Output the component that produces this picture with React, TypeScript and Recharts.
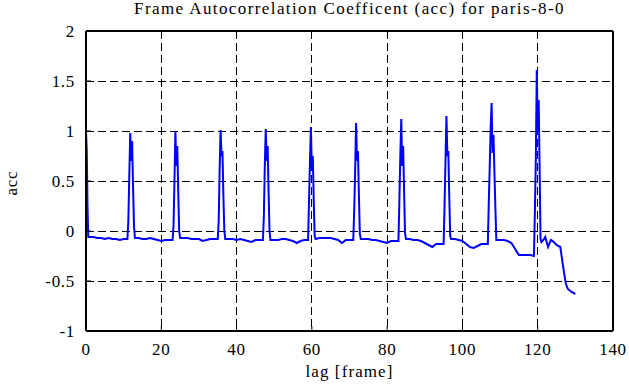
import React from 'react'
import {
  LineChart,
  Line,
  XAxis,
  YAxis,
  CartesianGrid,
  ReferenceLine,
} from 'recharts'

// lag positions, one row per 12-frame cycle
const lagFrames = [
  0, 0.2, 0.4, 0.6, 1, 2, 3, 4, 5, 6, 7, 8, 9, 10, 11,
  11.25, 11.5, 11.75, 12, 12.25, 12.5, 12.75, 13, 14, 15, 16, 17, 18, 19, 20, 21, 22, 23,
  23.25, 23.5, 23.75, 24, 24.25, 24.5, 24.75, 25, 26, 27, 28, 29, 30, 31, 32, 33, 34, 35,
  35.25, 35.5, 35.75, 36, 36.25, 36.5, 36.75, 37, 38, 39, 40, 41, 42, 43, 44, 45, 46, 47,
  47.25, 47.5, 47.75, 48, 48.25, 48.5, 48.75, 49, 50, 51, 52, 53, 54, 55, 56, 57, 58, 59,
  59.25, 59.5, 59.75, 60, 60.25, 60.5, 60.75, 61, 62, 63, 64, 65, 66, 67, 68, 69, 70, 71,
  71.25, 71.5, 71.75, 72, 72.25, 72.5, 72.75, 73, 74, 75, 76, 77, 78, 79, 80, 81, 82, 83,
  83.25, 83.5, 83.75, 84, 84.25, 84.5, 84.75, 85, 86, 87, 88, 89, 90, 91, 92, 93, 94, 95,
  95.25, 95.5, 95.75, 96, 96.25, 96.5, 96.75, 97, 98, 99, 100, 101, 102, 103, 104, 105, 106, 106.75,
  107, 107.25, 107.5, 107.75, 108, 108.25, 108.5, 108.75, 109, 110, 111, 112, 113, 114, 115, 116, 117, 118, 119,
  119.25, 119.5, 119.75, 120, 120.25, 120.5, 120.75, 121, 121.5, 122, 122.75, 123.5, 124, 125, 126, 126.5, 127, 127.5, 128, 129, 130,
]

const accValues = [
  0.99, 0.8, 0.25, -0.06, -0.06, -0.06, -0.07, -0.07, -0.08, -0.07, -0.08, -0.08, -0.09, -0.08, -0.08,
  0.1, 0.55, 0.98, 0.7, 0.9, 0.45, 0.05, -0.07, -0.07, -0.08, -0.08, -0.07, -0.08, -0.09, -0.1, -0.09, -0.09, -0.09,
  0.05, 0.5, 1.0, 0.65, 0.85, 0.4, 0.0, -0.07, -0.07, -0.07, -0.08, -0.08, -0.08, -0.1, -0.09, -0.08, -0.08, -0.08,
  0.1, 0.6, 1.01, 0.75, 0.8, 0.35, 0.0, -0.08, -0.08, -0.08, -0.09, -0.08, -0.09, -0.1, -0.11, -0.09, -0.09, -0.09,
  0.15, 0.65, 1.02, 0.7, 0.85, 0.4, 0.0, -0.09, -0.09, -0.09, -0.08, -0.08, -0.09, -0.1, -0.12, -0.1, -0.09, -0.09,
  0.3, 0.7, 1.04, 0.6, 0.75, 0.3, -0.05, -0.08, -0.07, -0.07, -0.07, -0.07, -0.08, -0.09, -0.12, -0.09, -0.09, -0.09,
  0.2, 0.6, 1.08, 0.7, 0.8, 0.35, -0.03, -0.08, -0.08, -0.08, -0.09, -0.09, -0.1, -0.11, -0.12, -0.1, -0.1, -0.1,
  0.3, 0.75, 1.12, 0.65, 0.85, 0.4, -0.02, -0.08, -0.08, -0.09, -0.09, -0.1, -0.12, -0.14, -0.16, -0.13, -0.13, -0.13,
  0.25, 0.7, 1.15, 0.75, 0.8, 0.35, -0.05, -0.08, -0.08, -0.09, -0.1, -0.13, -0.16, -0.17, -0.15, -0.13, -0.13, -0.13,
  0.28, 0.64, 1.03, 1.28, 0.78, 0.96, 0.59, 0.24, -0.09, -0.09, -0.09, -0.1, -0.12, -0.18, -0.24, -0.24, -0.24, -0.24, -0.25,
  0.2, 0.72, 1.61, 1.0, 1.31, 0.65, -0.08, -0.11, -0.09, -0.06, -0.16, -0.09, -0.1, -0.14, -0.16, -0.29, -0.42, -0.53, -0.58, -0.61, -0.63,
]

const xTicks = [0, 20, 40, 60, 80, 100, 120, 140]
const yTicks = [-1, -0.5, 0, 0.5, 1, 1.5, 2]

const title = 'Frame Autocorrelation Coefficent (acc) for paris-8-0'

const data = lagFrames.map((lag, i) => ({ lag, acc: accValues[i] }))

const font = 'Liberation Serif'
const textStyle = { fontFamily: font, fontSize: 17, fill: '#000', letterSpacing: 0.7 }

function XTick(props: any) {
  const { x, y, payload } = props
  return (
    <text x={x} y={y} dy='0.71em' textAnchor='middle' style={textStyle}>
      {payload.value}
    </text>
  )
}

function YTick(props: any) {
  const { x, y, payload } = props
  return (
    <text x={x} y={y} dy='0.355em' textAnchor='end' style={textStyle}>
      {payload.value}
    </text>
  )
}

export default function App() {
  return (
    <div
      style={{
        position: 'absolute',
        left: 0,
        top: 0,
        width: 629,
        height: 387,
        background: '#fff',
        fontFamily: font,
      }}
    >
      <div
        style={{
          position: 'absolute',
          left: 86,
          width: 527,
          top: -1,
          textAlign: 'center',
          fontSize: 17,
          letterSpacing: 1.4,
          whiteSpace: 'nowrap',
        }}
      >
        {title}
      </div>
      <LineChart
        width={629}
        height={387}
        data={data}
        style={{ fontFamily: font }}
        margin={{ top: 31, right: 16, bottom: 26, left: 46 }}
      >
        <CartesianGrid
          stroke='#000'
          strokeDasharray='8 4'
          shapeRendering='crispEdges'
        />
        <XAxis
          dataKey='lag'
          type='number'
          domain={[0, 140]}
          ticks={xTicks}
          height={30}
          tick={XTick}
          tickSize={-5}
          tickMargin={17}
          axisLine={{ stroke: '#000', strokeWidth: 2 }}
          tickLine={{ stroke: '#000' }}
        />
        <YAxis
          type='number'
          domain={[-1, 2]}
          ticks={yTicks}
          width={40}
          tick={YTick}
          tickSize={-5}
          tickMargin={16}
          axisLine={{ stroke: '#000', strokeWidth: 2 }}
          tickLine={{ stroke: '#000' }}
        />
        <ReferenceLine y={2} stroke='#000' strokeWidth={2} />
        <ReferenceLine x={140} stroke='#000' strokeWidth={2} />
        <Line
          type='linear'
          dataKey='acc'
          stroke='#0000ff'
          strokeWidth={2}
          dot={false}
          isAnimationActive={false}
        />
      </LineChart>
      <div
        style={{
          position: 'absolute',
          left: 86,
          width: 527,
          top: 362,
          textAlign: 'center',
          fontSize: 17,
          letterSpacing: 1.1,
        }}
      >
        lag [frame]
      </div>
      <div
        style={{
          position: 'absolute',
          left: -8,
          top: 173,
          width: 40,
          height: 20,
          lineHeight: '20px',
          textAlign: 'center',
          fontSize: 17,
          letterSpacing: 0.7,
          transform: 'rotate(-90deg)',
        }}
      >
        acc
      </div>
    </div>
  )
}
